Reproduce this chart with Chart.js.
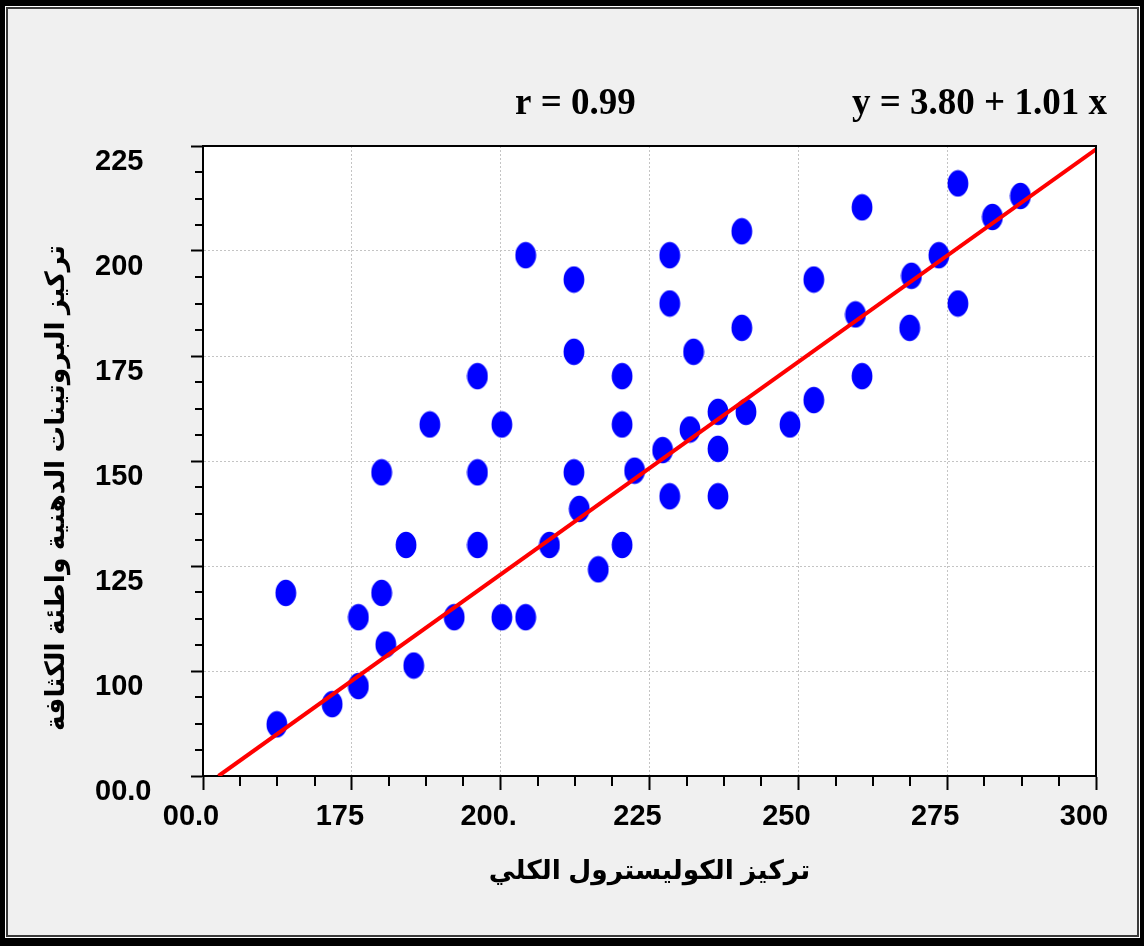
<!DOCTYPE html>
<html>
<head>
<meta charset="utf-8">
<title>LDL vs total cholesterol</title>
<script src="https://cdn.jsdelivr.net/npm/chart.js@4.4.1/dist/chart.umd.min.js"></script>
<style>
  html, body { margin: 0; padding: 0; background: #f0f0f0; overflow: hidden; }
  #wrap { position: relative; width: 1144px; height: 946px; }
</style>
</head>
<body>
<div id="wrap"><canvas id="ldlChart"></canvas></div>
<script>
// ---- values ----
const cholesterol = [162.4, 163.9, 171.7, 176.1, 176.1, 180.0, 180.0, 180.7, 184.1, 185.4,
                     188.1, 192.2, 196.1, 196.1, 196.1, 200.2, 200.2, 204.2, 204.2, 208.2,
                     212.3, 212.3, 212.3, 213.2, 216.4, 220.4, 220.4, 220.4, 222.5, 227.2,
                     228.4, 228.4, 228.4, 231.8, 232.4, 236.5, 236.5, 236.5, 240.5, 240.5,
                     241.2, 248.6, 252.6, 252.6, 259.6, 260.7, 260.7, 268.7, 269.0, 273.6,
                     276.8, 276.8, 282.6, 287.3];
const ldl = [87.3, 118.6, 92.1, 96.4, 112.8, 118.6, 147.3, 106.3, 130.0, 101.3,
             158.7, 112.8, 170.2, 147.3, 130.0, 158.7, 112.8, 199.0, 112.8, 130.0,
             193.2, 176.0, 147.3, 138.6, 124.2, 170.2, 158.7, 130.0, 147.7, 152.6,
             199.0, 187.5, 141.6, 157.5, 176.0, 152.9, 141.6, 161.7, 204.7, 181.7,
             161.7, 158.7, 193.2, 164.5, 184.9, 210.4, 170.2, 181.7, 194.1, 199.0,
             216.1, 187.5, 208.1, 213.1];

// regression line end points (as drawn)
const fitX = [152.6, 300];
const fitY = [75, 224.2];

const xTickValues = [150, 175, 200, 225, 250, 275, 300];
const xTickLabels = ["00.0", "175", "200.", "225", "250", "275", "300"];
const yTickValues = [75, 100, 125, 150, 175, 200, 225];
const yTickLabels = ["00.0", "100", "125", "150", "175", "200", "225"];
const minorStep = 6.25;

const xTitle = "تركيز الكوليسترول الكلي";
const yTitle = "تركيز البروتينات الدهنية واطئة الكثافة";
const rText = "r = 0.99";
const eqText = "y = 3.80 + 1.01 x";

const sansBold = "'Liberation Sans', Arial, 'DejaVu Sans', sans-serif";
const serifBold = "'Liberation Serif', 'Times New Roman', serif";

// blue ellipse marker (taller than wide)
function makeDot() {
    const c = document.createElement("canvas");
    c.width = 22; c.height = 28;
    const g = c.getContext("2d");
    g.fillStyle = "#0000ff";
    g.beginPath();
    g.ellipse(11, 14, 10.4, 13.2, 0, 0, Math.PI * 2);
    g.fill();
    return c;
}

function minorTicks(min, max) {
    const out = [];
    for (let v = min + minorStep; v < max; v += minorStep) {
        if (Math.abs(v % 25) > 0.01) out.push(v);
    }
    return out;
}

// frame, background, plot border, minor ticks and free texts
const decorPlugin = {
    id: "decor",
    beforeDraw(chart) {
        const ctx = chart.ctx, W = chart.width, H = chart.height;
        const a = chart.chartArea;
        ctx.save();
        ctx.fillStyle = "#000"; ctx.fillRect(0, 0, W, H);
        ctx.fillStyle = "#ffffff"; ctx.fillRect(5, 6, W - 9, H - 14);
        ctx.fillStyle = "#3a3a3a"; ctx.fillRect(6, 7, W - 11, H - 16);
        ctx.fillStyle = "#f0f0f0"; ctx.fillRect(8, 9, W - 15, H - 20);
        ctx.fillStyle = "#ffffff"; ctx.fillRect(a.left, a.top, a.right - a.left, a.bottom - a.top);
        ctx.restore();
    },
    afterDraw(chart) {
        const ctx = chart.ctx, a = chart.chartArea;
        const xs = chart.scales.x, ys = chart.scales.y;
        ctx.save();
        ctx.strokeStyle = "#000";
        ctx.lineWidth = 2;
        // top + right border
        ctx.beginPath();
        ctx.moveTo(a.left, a.top); ctx.lineTo(a.right, a.top); ctx.lineTo(a.right, a.bottom);
        ctx.stroke();
        // minor ticks
        ctx.beginPath();
        minorTicks(xs.min, xs.max).forEach(v => {
            const px = Math.round(xs.getPixelForValue(v));
            ctx.moveTo(px, a.bottom); ctx.lineTo(px, a.bottom + 10);
        });
        minorTicks(ys.min, ys.max).forEach(v => {
            const py = Math.round(ys.getPixelForValue(v));
            ctx.moveTo(a.left - 8, py); ctx.lineTo(a.left, py);
        });
        ctx.stroke();

        // r and equation
        ctx.fillStyle = "#000";
        ctx.font = "bold 37px " + serifBold;
        ctx.textBaseline = "alphabetic";
        ctx.textAlign = "left";
        ctx.fillText(rText, 515, 114);
        ctx.fillText(eqText, 852, 114);

        // y axis title (rotated)
        ctx.translate(57, 488);
        ctx.rotate(-Math.PI / 2);
        ctx.font = "bold 26.5px " + sansBold;
        ctx.textAlign = "center";
        ctx.textBaseline = "middle";
        ctx.fillText(yTitle, 0, 0);
        ctx.restore();
    }
};

const ctx = document.getElementById("ldlChart").getContext("2d");

new Chart(ctx, {
    type: "scatter",
    data: {
        datasets: [
            {
                type: "line",
                label: "fit",
                data: fitX.map((x, i) => ({ x: x, y: fitY[i] })),
                borderColor: "#ff0000",
                borderWidth: 4,
                pointRadius: 0,
                fill: false,
                order: 0
            },
            {
                label: "LDL",
                data: cholesterol.map((x, i) => ({ x: x, y: ldl[i] })),
                pointStyle: makeDot(),
                pointRadius: 12,
                order: 1
            }
        ]
    },
    options: {
        responsive: true,
        maintainAspectRatio: false,
        animation: false,
        layout: { padding: { top: 146, left: 95, right: 48, bottom: 0 } },
        plugins: {
            legend: { display: false },
            tooltip: { enabled: false }
        },
        scales: {
            x: {
                type: "linear",
                min: 150, max: 300,
                afterBuildTicks: axis => { axis.ticks = xTickValues.map(v => ({ value: v })); },
                afterFit: scale => { scale.height = 170; },
                ticks: {
                    color: "#000",
                    font: { family: sansBold, size: 29, weight: "bold" },
                    padding: 10,
                    labelOffset: -12,
                    maxRotation: 0,
                    callback: v => xTickLabels[xTickValues.indexOf(v)]
                },
                grid: {
                    color: "#c4c4c4",
                    lineWidth: 1,
                    tickLength: 14,
                    tickWidth: 2,
                    tickColor: "#000"
                },
                border: { display: true, color: "#000", width: 2, dash: [2, 2] },
                title: {
                    display: true,
                    text: xTitle,
                    color: "#000",
                    font: { family: sansBold, size: 26.5, weight: "bold" },
                    padding: { top: 0, bottom: 58 }
                }
            },
            y: {
                type: "linear",
                min: 75, max: 225,
                afterBuildTicks: axis => { axis.ticks = yTickValues.map(v => ({ value: v })); },
                afterFit: scale => { scale.width = 108; },
                ticks: {
                    color: "#000",
                    font: { family: sansBold, size: 29, weight: "bold" },
                    crossAlign: "far",
                    labelOffset: 16,
                    callback: v => yTickLabels[yTickValues.indexOf(v)]
                },
                grid: {
                    color: "#c4c4c4",
                    lineWidth: 1,
                    tickLength: 12,
                    tickWidth: 2,
                    tickColor: "#000"
                },
                border: { display: true, color: "#000", width: 2, dash: [2, 2] }
            }
        }
    },
    plugins: [decorPlugin]
});
</script>
</body>
</html>
